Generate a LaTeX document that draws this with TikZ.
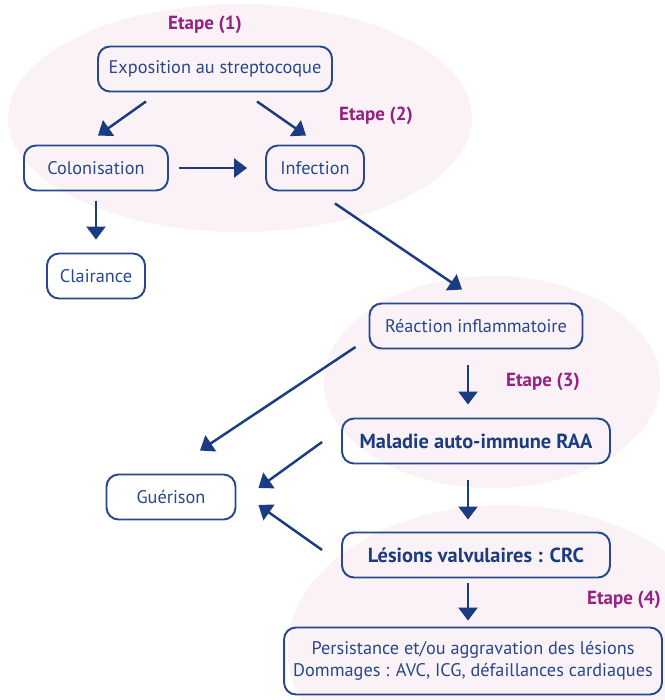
\documentclass[tikz,border=0pt]{standalone}
\usepackage{fontspec}
\setmainfont{PT Sans}
\usetikzlibrary{arrows.meta,calc}
\definecolor{boxblue}{HTML}{27488C}
\definecolor{arrowblue}{HTML}{1B3C82}
\definecolor{etape}{HTML}{972183}
\definecolor{halo}{HTML}{FAF2F6}
\begin{document}
\begin{tikzpicture}[x=0.02cm,y=-0.02cm,
    box/.style={draw=boxblue,line width=1.1pt,rounded corners=0.24cm,text=boxblue,
      font=\fontsize{10.4}{12.4}\selectfont,minimum height=0.9cm,inner sep=2pt},
    boldbox/.style={box,text=arrowblue,font=\fontsize{11.6}{13}\selectfont\bfseries},
    stagelbl/.style={text=etape,font=\fontsize{10.8}{12}\selectfont\bfseries},
    arr/.style={draw=arrowblue,line width=1.4pt,-{Triangle[length=0.26cm,width=0.38cm]}}]
    \useasboundingbox (0,0) rectangle (665,700);
    \clip (0,0) rectangle (665,700);
    \fill[halo] (240,118) ellipse [x radius=4.64cm, y radius=2.28cm];
    \fill[halo] (492,382) ellipse [x radius=3.36cm, y radius=2.12cm];
    \fill[halo] (505,650) ellipse [x radius=4.35cm, y radius=2.9cm];

    \node[box,minimum width=4.68cm] (expo) at (215,69) {Exposition au streptocoque};
    \node[box,minimum width=2.88cm] (colon) at (96,168) {Colonisation};
    \node[box,minimum width=1.96cm] (infect) at (315,168) {Infection};
    \node[box,minimum width=1.96cm] (clair) at (96,276) {Clairance};
    \node[box,minimum width=4.26cm] (reac) at (476,326) {Réaction inflammatoire};
    \node[boldbox,minimum width=5.36cm] (raa) at (476,441) {Maladie auto-immune RAA};
    \node[box,minimum width=2.58cm] (gueri) at (171,497) {Guérison};
    \node[boldbox,minimum width=5.36cm] (crc) at (476,555) {Lésions valvulaires : CRC};
    \node[box,minimum width=7.56cm,minimum height=1.34cm,align=center] (persist) at (473,661)
      {Persistance et/ou aggravation des lésions\\Dommages : AVC, ICG, défaillances cardiaques};

    \node[stagelbl] (et1) at (205,25) {Etape (1)};
    \node[stagelbl] (et2) at (376,116) {Etape (2)};
    \node[stagelbl] (et3) at (543,382) {Etape (3)};
    \node[stagelbl] (et4) at (624,600) {Etape (4)};

    \draw[arr] ($(expo.south)+(-69,9)$) to ($(colon.north)+(2,-9)$);
    \draw[arr] ($(expo.south)+(42,9)$) to ($(infect.north)+(-9,-9)$);
    \draw[arr,shorten <=0.2cm,shorten >=0.36cm] (colon.east) to (infect.west);
    \draw[arr,shorten <=0.2cm,shorten >=0.26cm] (colon.south) to (clair.north);
    \draw[arr] ($(infect.south)+(20,12)$) to ($(reac.north)+(-14,-13)$);
    \draw[arr] ($(reac.west)+(-13,21)$) to ($(gueri.north)+(29,-23)$);
    \draw[arr] ($(reac.south)+(-8,16)$) to ($(raa.north)+(-8,-13)$);
    \draw[arr] ($(raa.west)+(-19,1)$) to ($(gueri.east)+(22,-9)$);
    \draw[arr] ($(raa.south)+(-8,16)$) to ($(crc.north)+(-8,-12)$);
    \draw[arr] ($(crc.west)+(-19,-5)$) to ($(gueri.east)+(22,8)$);
    \draw[arr] ($(crc.south)+(-8,5)$) to ($(persist.north)+(-5,-6)$);
\end{tikzpicture}
\end{document}
